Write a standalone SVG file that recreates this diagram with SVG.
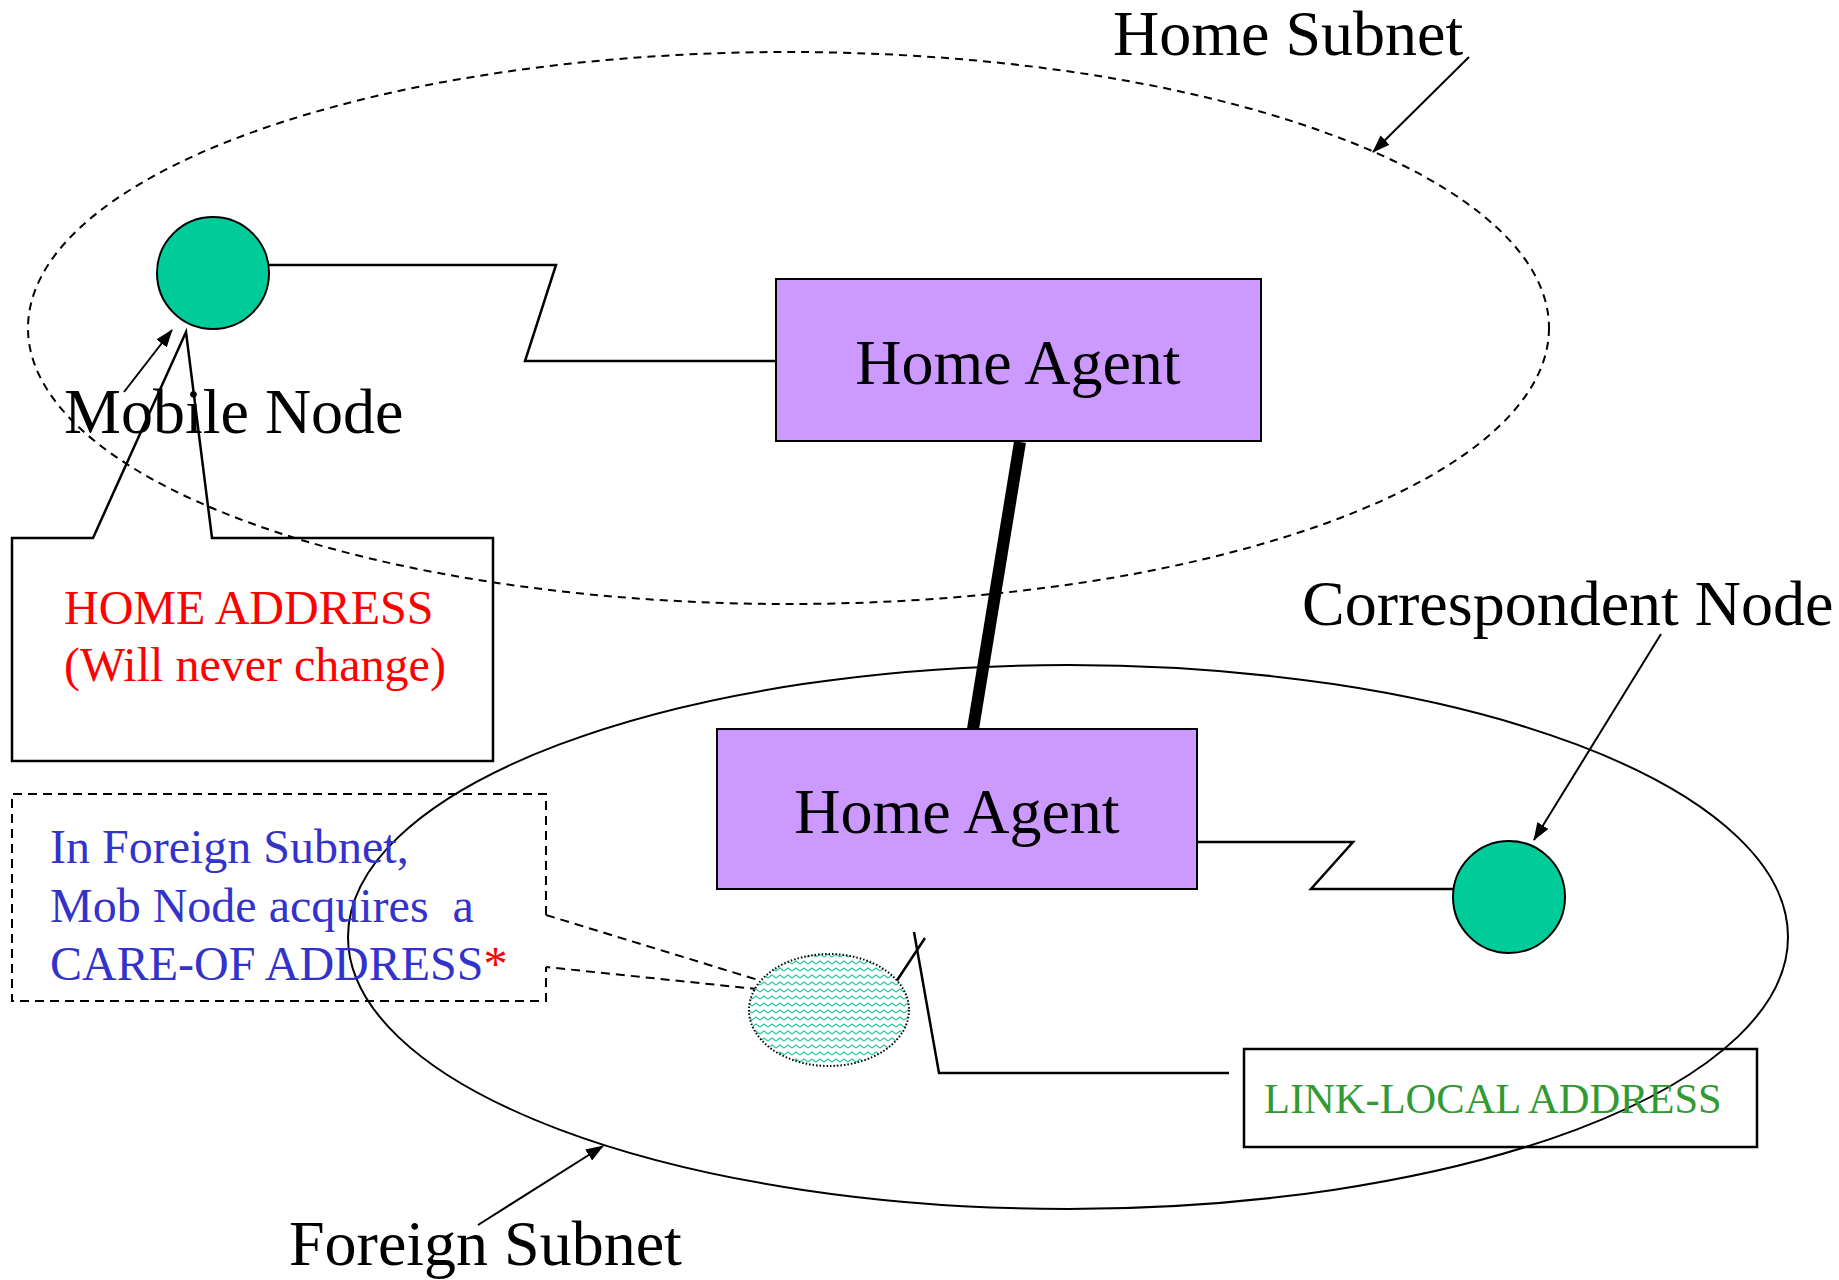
<svg xmlns="http://www.w3.org/2000/svg" width="1839" height="1280" viewBox="0 0 1839 1280">
  <style>
    text { font-family: "Liberation Serif", "Times New Roman", serif; }
    .big { font-size: 64px; fill: #000; }
    .ln { fill: none; stroke: #000; stroke-width: 2.5; }
    .agent { fill: #CC99FF; stroke: #000; stroke-width: 2; }
    .host { fill: #00CC99; stroke: #000; stroke-width: 2; }
    .arrow { fill: none; stroke: #000; stroke-width: 2; marker-end: url(#head); }
    .dash { fill: none; stroke: #000; stroke-width: 2; stroke-dasharray: 9 6; }
  </style>
  <defs>
    <marker id="head" markerUnits="userSpaceOnUse" markerWidth="18" markerHeight="13" refX="17" refY="6.5" orient="auto">
      <path d="M0,0 L18,6.5 L0,13 Z" fill="#000"/>
    </marker>
    <!-- wavy teal fill for the care-of address blob -->
    <pattern id="waves" patternUnits="userSpaceOnUse" width="8" height="7">
      <rect width="8" height="7" fill="#fff"/>
      <path d="M0,5 L4,2 L8,5" fill="none" stroke="#2CC9A0" stroke-width="1.4"/>
    </pattern>
  </defs>

  <!-- subnets -->
  <g id="home-subnet">
    <ellipse cx="788.5" cy="328" rx="760.5" ry="276" fill="none" stroke="#000" stroke-width="2" stroke-dasharray="8 6"/>
  </g>
  <g id="foreign-subnet">
    <ellipse cx="1068" cy="937" rx="720" ry="272" fill="none" stroke="#000" stroke-width="2"/>
  </g>

  <!-- connectors -->
  <g id="connectors">
    <polyline class="ln" points="269,265 556,265 525,361 781,361"/>
    <line x1="1020" y1="442" x2="973" y2="729" stroke="#000" stroke-width="12"/>
    <polyline class="ln" points="1197,842 1353,842 1311,889 1454,889"/>
    <line class="arrow" x1="1469" y1="57" x2="1373" y2="152"/>
    <line class="arrow" x1="124" y1="392" x2="172" y2="330"/>
    <line class="arrow" x1="1661" y1="634" x2="1534" y2="840"/>
    <line class="arrow" x1="478" y1="1225" x2="603" y2="1146"/>
    <polyline class="dash" points="546,915 804,994 546,967"/>
    <line class="ln" x1="894" y1="985" x2="925" y2="938"/>
    <polyline class="ln" points="914,932 939,1073 1229,1073"/>
  </g>

  <!-- nodes -->
  <g id="mobile-node">
    <circle class="host" cx="213" cy="273" r="56"/>
  </g>
  <g id="home-agent">
    <rect class="agent" x="776" y="279" width="485" height="162"/>
    <text class="big" x="1018" y="384" text-anchor="middle">Home Agent</text>
  </g>
  <g id="foreign-agent">
    <rect class="agent" x="717" y="729" width="480" height="160"/>
    <text class="big" x="957" y="833" text-anchor="middle">Home Agent</text>
  </g>
  <g id="correspondent-node">
    <circle class="host" cx="1509" cy="897" r="56"/>
  </g>
  <g id="care-of-address">
    <ellipse cx="829" cy="1010" rx="80" ry="56" fill="url(#waves)" stroke="#000" stroke-width="2" stroke-dasharray="1.5 2"/>
  </g>

  <!-- callouts -->
  <g id="home-address-callout">
    <polygon points="12,538 93,538 186,332 212,538 493,538 493,761 12,761" fill="none" stroke="#000" stroke-width="2.5"/>
    <text x="64" y="624" font-size="48" fill="#FF0000">HOME ADDRESS</text>
    <text x="64" y="681" font-size="48" fill="#FF0000">(Will never change)</text>
  </g>
  <g id="care-of-callout">
    <polyline class="dash" points="546,915 546,794 12,794 12,1001 546,1001 546,967"/>
    <text x="50" y="863" font-size="48" fill="#3333CC">In Foreign Subnet,</text>
    <text x="50" y="922" font-size="48" fill="#3333CC" style="white-space:pre">Mob Node acquires  a</text>
    <text x="50" y="980" font-size="48" fill="#3333CC">CARE-OF ADDRESS<tspan fill="#FF0000">*</tspan></text>
  </g>
  <g id="link-local-callout">
    <rect x="1244" y="1049" width="513" height="98" fill="none" stroke="#000" stroke-width="2.5"/>
    <text x="1264" y="1113" font-size="42.5" fill="#339933">LINK-LOCAL ADDRESS</text>
  </g>

  <!-- labels -->
  <g id="labels">
    <text class="big" x="1113" y="55">Home Subnet</text>
    <text class="big" x="64" y="433">Mobile Node</text>
    <text class="big" x="1302" y="625">Correspondent Node</text>
    <text class="big" x="289" y="1265">Foreign Subnet</text>
  </g>
</svg>
